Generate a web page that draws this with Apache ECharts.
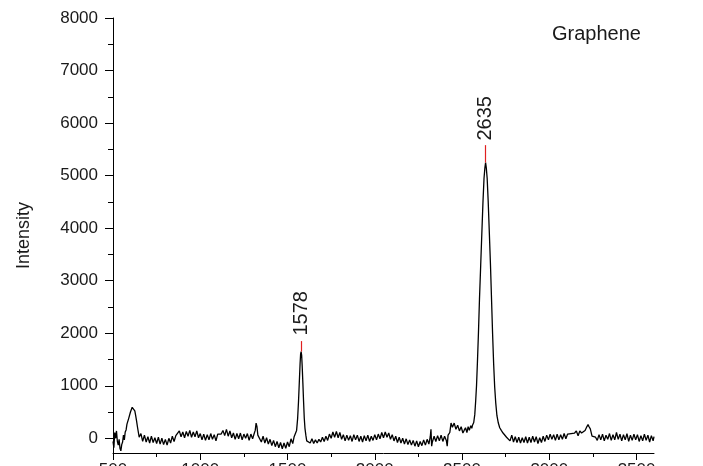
<!DOCTYPE html>
<html>
<head>
<meta charset="utf-8">
<title>Graphene Raman spectrum</title>
<script src="https://cdn.jsdelivr.net/npm/echarts@6/dist/echarts.min.js"></script>
<style>
  html, body { margin: 0; padding: 0; background: #fff; }
  #chart { width: 703px; height: 466px; }
</style>
</head>
<body>
<div id="chart"></div>
<script>
// spectrum: [raman shift, intensity]
const spectrum = [
  [500, -60], [505, -180], [510, 110], [515, 0], [520, 140], [525, -60], [530, -130], [535, -20], [540, -190], [545, -240],
  [550, -120], [555, -70], [560, 60], [565, -30], [570, 120], [575, 160], [580, 270], [585, 280], [590, 380], [595, 400],
  [600, 500], [605, 510], [610, 590], [615, 620], [620, 560], [625, 520], [630, 430], [635, 330], [640, 220], [645, 120],
  [650, 20], [655, 40], [660, 90], [670, -60], [680, 60], [690, -70], [700, 30], [710, -90], [720, 40], [730, -80],
  [740, 10], [750, -100], [760, 20], [770, -110], [780, 0], [790, -120], [800, -20], [810, -130], [820, 0], [830, -90],
  [840, 40], [850, -60], [860, 50], [870, 20], [880, 140], [890, 30], [900, 120], [910, 10], [920, 130], [930, 40],
  [940, 150], [950, 20], [960, 120], [970, 30], [980, 140], [990, 10], [1000, 90], [1010, -30], [1020, 80], [1030, -40],
  [1040, 70], [1050, -30], [1060, 90], [1070, -20], [1080, 70], [1090, -50], [1100, 80], [1110, 60], [1120, 80], [1130, 150],
  [1140, 50], [1150, 170], [1160, 40], [1170, 140], [1180, 10], [1190, 100], [1200, -20], [1210, 90], [1220, -10], [1230, 100],
  [1240, -30], [1250, 80], [1260, 0], [1270, 90], [1280, -40], [1290, 80], [1300, -10], [1310, 100], [1315, 150], [1320, 290],
  [1325, 220], [1330, 60], [1340, 40], [1350, -70], [1360, 40], [1370, -90], [1380, 10], [1390, -110], [1400, -20], [1410, -140],
  [1420, -40], [1430, -160], [1440, -60], [1450, -180], [1460, -80], [1470, -200], [1480, -90], [1490, -190], [1500, -70], [1510, -160],
  [1520, -10], [1530, -100], [1538, 30], [1545, 60], [1552, 150], [1558, 380], [1563, 700], [1568, 1100], [1572, 1420], [1575, 1600],
  [1578, 1650], [1581, 1580], [1584, 1380], [1588, 1050], [1592, 700], [1596, 380], [1600, 190], [1605, 60], [1610, -50], [1620, -20],
  [1630, -90], [1640, -10], [1650, -100], [1660, -30], [1670, -90], [1680, -20], [1690, -70], [1700, 20], [1710, -60], [1720, 40],
  [1730, -40], [1740, 80], [1750, 0], [1760, 120], [1770, 20], [1780, 130], [1790, 10], [1800, 110], [1810, -20], [1820, 70],
  [1830, -50], [1840, 60], [1850, -40], [1860, 50], [1870, -60], [1880, 70], [1890, -30], [1900, 60], [1910, -60], [1920, 40],
  [1930, -70], [1940, 50], [1950, -50], [1960, 60], [1970, -60], [1980, 40], [1990, -40], [2000, 70], [2010, -30], [2020, 80],
  [2030, -10], [2040, 110], [2050, 10], [2060, 120], [2070, 20], [2080, 100], [2090, -20], [2100, 70], [2110, -50], [2120, 40],
  [2130, -80], [2140, 20], [2150, -90], [2160, 0], [2170, -110], [2180, -10], [2190, -120], [2200, -30], [2210, -130], [2220, -40],
  [2230, -150], [2240, -50], [2250, -160], [2260, -60], [2270, -140], [2280, -30], [2290, -130], [2300, -20], [2310, -110], [2318, 30],
  [2322, 170], [2326, -150], [2330, -70], [2340, 40], [2350, -60], [2360, 50], [2370, -50], [2380, 60], [2390, -60], [2400, 40],
  [2410, -40], [2415, -150], [2420, 60], [2430, 110], [2437, 290], [2445, 210], [2455, 290], [2465, 170], [2475, 250], [2485, 140],
  [2495, 220], [2505, 100], [2512, 150], [2520, 200], [2528, 110], [2535, 220], [2542, 150], [2550, 240], [2556, 190], [2560, 250],
  [2567, 300], [2573, 450], [2578, 700], [2583, 1000], [2588, 1430], [2594, 2000], [2600, 2650], [2607, 3300], [2614, 3950], [2620, 4500],
  [2626, 4950], [2631, 5150], [2635, 5250], [2639, 5150], [2644, 4950], [2650, 4500], [2656, 3950], [2663, 3300], [2669, 2650], [2675, 2000],
  [2681, 1430], [2687, 980], [2693, 680], [2700, 430], [2708, 290], [2716, 200], [2725, 150], [2735, 100], [2745, 110], [2755, 20],
  [2765, 40], [2775, -50], [2785, 60], [2795, -70], [2805, 30], [2815, -80], [2825, 20], [2835, -90], [2845, 10], [2855, -80],
  [2865, 30], [2875, -90], [2885, 20], [2895, -80], [2905, 40], [2915, -70], [2925, 30], [2935, -100], [2945, 10], [2955, -80],
  [2965, 40], [2975, -60], [2985, 60], [2995, -30], [3005, 80], [3015, -20], [3025, 70], [3035, -40], [3045, 80], [3055, -30],
  [3065, 70], [3075, -20], [3085, 90], [3095, -10], [3105, 80], [3115, 60], [3125, 90], [3135, 80], [3145, 100], [3155, 140],
  [3165, 50], [3175, 140], [3185, 100], [3195, 130], [3205, 150], [3215, 220], [3222, 260], [3228, 220], [3235, 180], [3245, 40],
  [3255, 50], [3265, 20], [3275, -40], [3285, 70], [3295, -30], [3305, 80], [3315, -50], [3325, 60], [3335, -20], [3345, 90],
  [3355, -40], [3365, 70], [3375, -30], [3385, 110], [3395, -20], [3405, 80], [3415, -50], [3425, 70], [3435, -30], [3445, 90],
  [3455, -60], [3465, 60], [3475, -40], [3485, 80], [3495, -30], [3505, 70], [3515, -60], [3525, 50], [3535, -50], [3545, 80],
  [3555, -40], [3565, 60], [3575, -70], [3585, 50], [3595, -50], [3600, 30]
]

// labelled peaks
const peakShift = [1578, 2635]
const peakTop = [1650, 5250]
const markerTop = [1850, 5580]
const labelCenter = [2380, 6090]

// axis ticks
const xMajor = [500, 1000, 1500, 2000, 2500, 3000, 3500]
const xMinor = [750, 1250, 1750, 2250, 2750, 3250]
const yMajor = [0, 1000, 2000, 3000, 4000, 5000, 6000, 7000, 8000]
const yMinor = [500, 1500, 2500, 3500, 4500, 5500, 6500, 7500]

const FONT = '"Liberation Sans", Arial, sans-serif'
const INK = '#1a1a1a'

const chart = echarts.init(document.getElementById('chart'))

const plain = (v) => String(v)

const axisBase = (extra) => ({
  type: 'value',
  splitLine: { show: false },
  ...extra,
})

const option = {
  animation: false,
  backgroundColor: '#fff',
  textStyle: { fontFamily: FONT },
  title: {
    text: 'Graphene',
    left: 547,
    top: 19,
    textStyle: { fontSize: 20, fontWeight: 'normal', color: INK, fontFamily: FONT },
  },
  grid: {
    left: 113,
    right: 49,
    top: 18,
    bottom: 13,
    containLabel: false,
    outerBoundsMode: 'none',
  },
  xAxis: [
    axisBase({
      min: 500,
      max: 3600,
      position: 'bottom',
      axisLine: { show: true, onZero: false, lineStyle: { color: '#000', width: 1 } },
      axisTick: { show: true, customValues: xMajor, length: 7, lineStyle: { color: '#000' } },
      axisLabel: { customValues: xMajor, margin: 9, fontSize: 17, color: INK, fontFamily: FONT, formatter: plain },
    }),
    axisBase({
      min: 500,
      max: 3600,
      position: 'bottom',
      axisLine: { show: false, onZero: false },
      axisTick: { show: true, customValues: xMinor, length: 4, lineStyle: { color: '#000' } },
      axisLabel: { show: false },
    }),
  ],
  yAxis: [
    axisBase({
      min: -280,
      max: 8000,
      position: 'left',
      name: 'Intensity',
      nameLocation: 'middle',
      nameGap: 80,
      nameTextStyle: { fontSize: 18, color: INK, fontFamily: FONT },
      axisLine: { show: true, onZero: false, lineStyle: { color: '#000', width: 1 } },
      axisTick: { show: true, customValues: yMajor, length: 8, lineStyle: { color: '#000' } },
      axisLabel: { customValues: yMajor, margin: 15, fontSize: 17, color: INK, fontFamily: FONT, formatter: plain },
    }),
    axisBase({
      min: -280,
      max: 8000,
      position: 'left',
      axisLine: { show: false, onZero: false },
      axisTick: { show: true, customValues: yMinor, length: 5, lineStyle: { color: '#000' } },
      axisLabel: { show: false },
    }),
  ],
  series: [
    {
      type: 'line',
      data: spectrum,
      xAxisIndex: 0,
      yAxisIndex: 0,
      showSymbol: false,
      symbol: 'none',
      lineStyle: { color: '#000', width: 1.3 },
      markLine: {
        silent: true,
        symbol: ['none', 'none'],
        lineStyle: { color: '#e02020', type: 'solid', width: 1.2 },
        label: { show: false },
        data: peakShift.map((x, i) => [
          { coord: [x, peakTop[i]] },
          { coord: [x, markerTop[i]] },
        ]),
      },
      markPoint: {
        silent: true,
        symbol: 'circle',
        symbolSize: 1,
        itemStyle: { color: 'rgba(0,0,0,0)' },
        label: {
          show: true,
          position: 'inside',
          rotate: 90,
          fontSize: 20,
          color: INK,
          fontFamily: FONT,
          formatter: (p) => p.name,
        },
        data: peakShift.map((x, i) => ({
          name: String(x),
          coord: [x, labelCenter[i]],
        })),
      },
    },
  ],
}

chart.setOption(option)
</script>
</body>
</html>
